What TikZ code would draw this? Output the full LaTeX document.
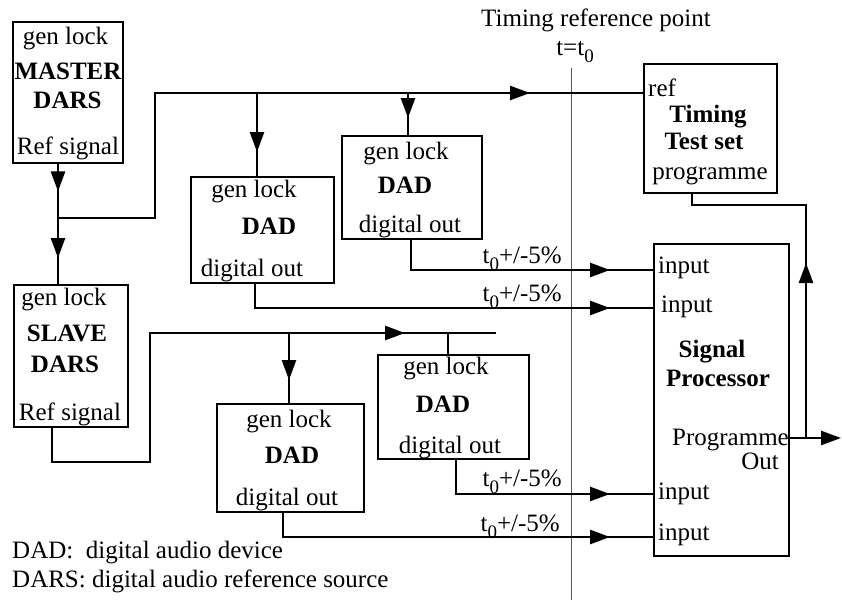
\documentclass[tikz,border=0pt]{standalone}
\usepackage{fontspec}
\setmainfont{Liberation Serif}
\usetikzlibrary{arrows.meta,positioning}
\newcommand{\tnull}{t\raisebox{-7pt}{\fontsize{19}{19}\selectfont 0}}

\begin{document}
\begin{tikzpicture}[x=1pt,y=-1pt,
  font=\fontsize{25}{30}\selectfont,
  box/.style={draw,line width=2.8pt,rectangle,inner sep=0pt},
  wire/.style={line width=2.6pt},
  arr/.style={wire,-{Triangle[length=20pt,width=14pt]}},
  txt/.style={anchor=base,inner sep=0pt}]
\useasboundingbox (0,0) rectangle (842,600);

% timing reference
\coordinate (tr) at (571,68);
\draw[gray!70!black,line width=1pt] (tr) -- (571,600);
\node[txt] (trp) at (596,26) {Timing reference point};
\node[txt] (tzero) at (575,55) {t=\tnull};

% boxes
\node[box,minimum width=110pt,minimum height=141pt] (master) at (68,92.5) {};
\node[box,minimum width=114pt,minimum height=142pt] (slave) at (71,356) {};
\node[box,minimum width=143pt,minimum height=106pt] (dad1) at (262.5,230) {};
\node[box,minimum width=140pt,minimum height=103pt] (dad2) at (412,187.5) {};
\node[box,minimum width=147pt,minimum height=108pt] (dad3) at (290.5,458) {};
\node[box,minimum width=151pt,minimum height=104pt] (dad4) at (453.5,407) {};
\node[box,minimum width=133pt,minimum height=129pt] (test) at (710.5,128.5) {};
\node[box,minimum width=135pt,minimum height=312pt] (proc) at (721.5,400) {};

% box texts
\node[txt] (master-gl) at (65.5,44) {gen lock};
\node[txt] (master-t1) at (68,79) {\bfseries MASTER};
\node[txt] (master-t2) at (67.5,108) {\bfseries DARS};
\node[txt] (master-rs) at (68,154) {Ref signal};
\node[txt] (slave-gl) at (64,305) {gen lock};
\node[txt] (slave-t1) at (67,341) {\bfseries SLAVE};
\node[txt] (slave-t2) at (65,372) {\bfseries DARS};
\node[txt] (slave-rs) at (70,420) {Ref signal};
\node[txt] (dad1-gl) at (254,197) {gen lock};
\node[txt] (dad1-t) at (269,234) {\bfseries DAD};
\node[txt] (dad1-do) at (252,276) {digital out};
\node[txt] (dad2-gl) at (406,159) {gen lock};
\node[txt] (dad2-t) at (405,193) {\bfseries DAD};
\node[txt] (dad2-do) at (410,232) {digital out};
\node[txt] (dad3-gl) at (289,427) {gen lock};
\node[txt] (dad3-t) at (292,463) {\bfseries DAD};
\node[txt] (dad3-do) at (287,505) {digital out};
\node[txt] (dad4-gl) at (446,374) {gen lock};
\node[txt] (dad4-t) at (443,412) {\bfseries DAD};
\node[txt] (dad4-do) at (450,453) {digital out};
\node[txt,anchor=base west] (test-ref) at (648,96) {ref};
\node[txt] (test-t1) at (708,122) {\bfseries Timing};
\node[txt] (test-t2) at (704,149) {\bfseries Test set};
\node[txt] (test-pg) at (710,179) {programme};
\node[txt,anchor=base west] (proc-in1) at (658,273) {input};
\node[txt,anchor=base west] (proc-in2) at (661,312) {input};
\node[txt] (proc-t1) at (712,357) {\bfseries Signal};
\node[txt] (proc-t2) at (718,386) {\bfseries Processor};
\node[txt,anchor=base east] (proc-po) at (789,445) {Programme};
\node[txt,anchor=base east] (proc-out) at (779,469) {Out};
\node[txt,anchor=base west] (proc-in3) at (658,499) {input};
\node[txt,anchor=base west] (proc-in4) at (658,540) {input};

% master reference distribution
\coordinate (j1) at (58,218);
\coordinate (b1) at (155,93);
\coordinate (t1) at (257,93);
\coordinate (t2) at (408,93);
\draw[wire] (master.south -| j1) -- (slave.north -| j1);
\draw[arr] (master.south -| j1) -- ++(0,27);
\draw[arr] (j1) -- ++(0,40);
\draw[wire] (j1) -| (b1) -- (b1 -| test.west);
\draw[arr] (b1) -- ++(375,0);
\draw[wire] (t1) -- (t1 |- dad1.north);
\draw[arr] (t1) -- ++(0,59);
\draw[wire] (t2) -- (t2 |- dad2.north);
\draw[arr] (t2) -- ++(0,25);

% slave reference distribution
\coordinate (s1) at (52,462);
\coordinate (s2) at (150,333);
\coordinate (send) at (496,333);
\coordinate (t3) at (289,333);
\coordinate (t4) at (448,333);
\draw[wire] (slave.south -| s1) -- (s1) -| (s2) -- (send);
\draw[arr] (s2) -- ++(255,0);
\draw[wire] (t3) -- (t3 |- dad3.north);
\draw[arr] (t3) -- ++(0,47);
\draw[wire] (t4) -- (t4 |- dad4.north);

% digital outs
\coordinate (o1) at (255,308);
\coordinate (o2) at (411,270);
\coordinate (o3) at (283,537);
\coordinate (o4) at (456,494);
\draw[wire] (dad1.south -| o1) -- (o1) -- (o1 -| proc.west);
\draw[arr] (o1) -- ++(355,0);
\draw[wire] (dad2.south -| o2) -- (o2) -- (o2 -| proc.west);
\draw[arr] (o2) -- ++(199,0);
\draw[wire] (dad3.south -| o3) -- (o3) -- (o3 -| proc.west);
\draw[arr] (o3) -- ++(327,0);
\draw[wire] (dad4.south -| o4) -- (o4) -- (o4 -| proc.west);
\draw[arr] (o4) -- ++(154,0);
\node[txt,anchor=base east] (tol2) at (562,263) {\tnull+/-5\%};
\node[txt,anchor=base east] (tol1) at (562,301) {\tnull+/-5\%};
\node[txt,anchor=base east] (tol4) at (562,486) {\tnull+/-5\%};
\node[txt,anchor=base east] (tol3) at (560,531) {\tnull+/-5\%};

% programme out and loop back
\coordinate (p1) at (806,438);
\coordinate (p2) at (806,205);
\coordinate (p3) at (692,205);
\draw[wire] (proc.east |- p1) -- (p1);
\draw[arr] (p1) -- (841,438);
\draw[wire] (p1) -- (p2) -- (p3) -- (p3 |- test.south);
\draw[arr] (p1) -- ++(0,-175);

% legend
\node[txt,anchor=base west] (leg1) at (12,558) {DAD:\ \ digital audio device};
\node[txt,anchor=base west] (leg2) at (12,587) {DARS: digital audio reference source};
\end{tikzpicture}
\end{document}
